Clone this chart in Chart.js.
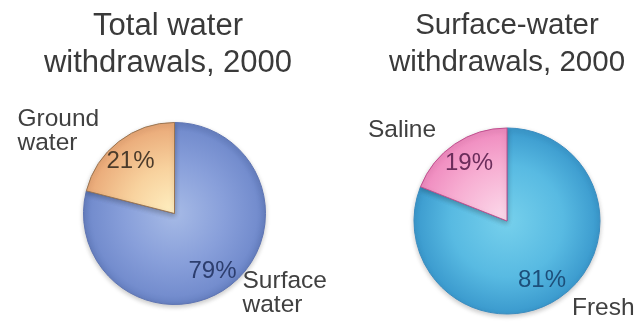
<!DOCTYPE html>
<html>
<head>
<meta charset="utf-8">
<script src="https://cdn.jsdelivr.net/npm/chart.js@4.4.0/dist/chart.umd.min.js"></script>
<style>
  html, body { margin: 0; padding: 0; background: #fff; width: 639px; height: 325px; overflow: hidden; }
  canvas { position: absolute; top: 0; }
  #totalChart { left: 0; }
  #surfaceChart { left: 368px; }
</style>
</head>
<body>
<canvas id="totalChart" width="336" height="325"></canvas>
<canvas id="surfaceChart" width="278" height="325"></canvas>
<script>
// data
const totalTitle = ['Total water', 'withdrawals, 2000'];
const totalLabels = [['Surface', 'water'], ['Ground', 'water']];
const totalValues = [79, 21];

const surfaceTitle = ['Surface-water', 'withdrawals, 2000'];
const surfaceLabels = [['Fresh'], ['Saline']];
const surfaceValues = [81, 19];

// radial gradient fill, one set of stops per slice
const radialFill = (stopsBySlice) => (context) => {
    const chart = context.chart;
    const stops = stopsBySlice[context.dataIndex] || stopsBySlice[0];
    const area = chart.chartArea;
    if (!area) return stops[stops.length - 1][1];
    const cx = (area.left + area.right) / 2;
    const cy = (area.top + area.bottom) / 2;
    const r = Math.min(area.right - area.left, area.bottom - area.top) / 2;
    const g = chart.ctx.createRadialGradient(cx, cy, 0, cx, cy, r);
    stops.forEach(s => g.addColorStop(s[0], s[1]));
    return g;
};

// soft drop shadow under the pie
const pieShadow = {
    id: 'pieShadow',
    beforeDatasetsDraw(chart) {
        const ctx = chart.ctx;
        ctx.save();
        ctx.shadowColor = 'rgba(0, 0, 0, 0.22)';
        ctx.shadowBlur = 5;
        ctx.shadowOffsetY = 2;
    },
    afterDatasetsDraw(chart) {
        chart.ctx.restore();
    }
};

// title + percent and name labels next to each slice
const sliceText = {
    id: 'sliceText',
    afterDatasetsDraw(chart, args, opts) {
        const ctx = chart.ctx;
        const meta = chart.getDatasetMeta(0);
        const values = chart.data.datasets[0].data;
        const total = values.reduce((a, b) => a + b, 0);
        ctx.save();

        ctx.font = opts.titleSize + 'px "Liberation Sans", Arial, sans-serif';
        ctx.fillStyle = '#3a3a3a';
        ctx.textAlign = 'center';
        ctx.textBaseline = 'alphabetic';
        opts.title.forEach((line, j) => {
            ctx.fillText(line, chart.width / 2, opts.titleY + j * opts.titleGap);
        });

        meta.data.forEach((arc, i) => {
            const cx = arc.x, cy = arc.y;
            const pct = opts.pct[i];
            ctx.font = '24px "Liberation Sans", Arial, sans-serif';
            ctx.fillStyle = pct.color;
            ctx.textAlign = 'center';
            ctx.fillText(Math.round(values[i] / total * 100) + '%', cx + pct.dx, cy + pct.dy);

            const nm = opts.names[i];
            ctx.font = '24.5px "Liberation Sans", Arial, sans-serif';
            ctx.fillStyle = '#404040';
            ctx.textAlign = 'left';
            chart.data.labels[i].forEach((line, j) => {
                ctx.fillText(line, cx + nm.dx, cy + nm.dy + j * 24.5);
            });
        });
        ctx.restore();
    }
};

new Chart(document.getElementById('totalChart'), {
    type: 'pie',
    data: {
        labels: totalLabels,
        datasets: [{
            data: totalValues,
            backgroundColor: radialFill([
                [[0, '#a6bae6'], [0.55, '#889fda'], [0.9, '#748dce'], [1, '#6680c1']],
                [[0, '#fff0c2'], [0.5, '#f8d29e'], [1, '#e9a776']]
            ]),
            borderColor: ['#5e74b3', '#9a7552'],
            borderWidth: 1
        }]
    },
    options: {
        responsive: false,
        animation: false,
        layout: { padding: { left: 83, right: 70, top: 122, bottom: 20 } },
        plugins: {
            legend: { display: false },
            tooltip: { enabled: false },
            title: { display: false },
            sliceText: {
                title: totalTitle, titleSize: 31, titleY: 35, titleGap: 37,
                pct: [{ dx: 38, dy: 64, color: '#2d3e6e' }, { dx: -44, dy: -46, color: '#4b3b2b' }],
                names: [{ dx: 68, dy: 74 }, { dx: -157, dy: -88 }]
            }
        }
    },
    plugins: [pieShadow, sliceText]
});

new Chart(document.getElementById('surfaceChart'), {
    type: 'pie',
    data: {
        labels: surfaceLabels,
        datasets: [{
            data: surfaceValues,
            backgroundColor: radialFill([
                [[0, '#76d0ec'], [0.6, '#58bae2'], [1, '#3a99cd']],
                [[0, '#fcdcec'], [0.6, '#f7aed2'], [1, '#ef89be']]
            ]),
            borderColor: ['#3a8cc0', '#c0508f'],
            borderWidth: 1
        }]
    },
    options: {
        responsive: false,
        animation: false,
        layout: { padding: { left: 45.5, right: 45.5, top: 127.5, bottom: 10.5 } },
        plugins: {
            legend: { display: false },
            tooltip: { enabled: false },
            title: { display: false },
            sliceText: {
                title: surfaceTitle, titleSize: 29.5, titleY: 33.5, titleGap: 37,
                pct: [{ dx: 35, dy: 66, color: '#1d4f7a' }, { dx: -38, dy: -51, color: '#6b2d5b' }],
                names: [{ dx: 65, dy: 94 }, { dx: -139, dy: -84 }]
            }
        }
    },
    plugins: [pieShadow, sliceText]
});
</script>
</body>
</html>
